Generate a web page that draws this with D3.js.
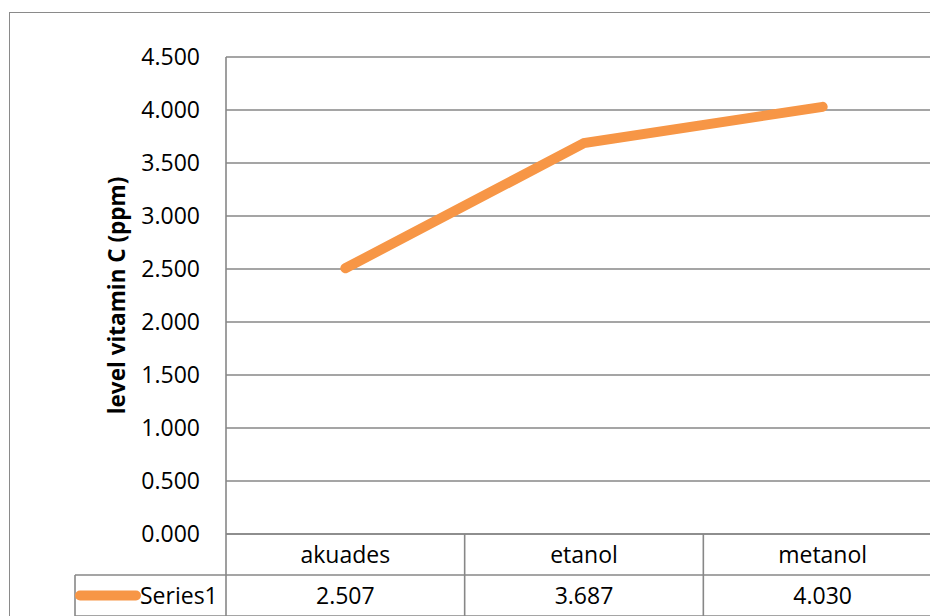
<!DOCTYPE html>
<html>
<head>
<meta charset="utf-8">
<script src="https://cdn.jsdelivr.net/npm/d3@7"></script>
<style>
  html, body { margin: 0; padding: 0; background: #fff; overflow: hidden; }
  svg { display: block; font-family: "Open Sans", "Liberation Sans", sans-serif; }
</style>
</head>
<body>
<svg id="chart" width="930" height="616"></svg>
<script>
// chart data
const categories = ["akuades", "etanol", "metanol"];
const seriesName = "Series1";
const values = [2.507, 3.687, 4.030];
const yTicks = [0, 0.5, 1, 1.5, 2, 2.5, 3, 3.5, 4, 4.5];
const yTitle = "level vitamin C (ppm)";

const svg = d3.select("#chart");
const gridColor = "#878787";
const lineColor = "#f79646";

// plot box (right side runs past the window like the original)
const plot = { left: 226, right: 942, top: 57, bottom: 534 };
const rowH = 41;

const x = d3.scaleBand().domain(categories).range([plot.left, plot.right]).padding(0);
const y = d3.scaleLinear().domain([0, 4.5]).range([plot.bottom, plot.top]);
const fmt = d3.format(".3f");

// outer chart border
svg.append("rect")
  .attr("x", 9.5).attr("y", 12.5)
  .attr("width", 960).attr("height", 640)
  .attr("fill", "none").attr("stroke", "#8a8a8a").attr("stroke-width", 1);

// gridlines
svg.append("g")
  .selectAll("line")
  .data(yTicks)
  .join("line")
  .attr("x1", plot.left).attr("x2", plot.right)
  .attr("y1", d => y(d)).attr("y2", d => y(d))
  .attr("stroke", gridColor).attr("stroke-width", 1.6);

// y axis line
svg.append("line")
  .attr("x1", plot.left).attr("x2", plot.left)
  .attr("y1", plot.top).attr("y2", plot.bottom)
  .attr("stroke", gridColor).attr("stroke-width", 1.6);

// tick labels
svg.append("g")
  .selectAll("text")
  .data(yTicks)
  .join("text")
  .attr("x", 200)
  .attr("y", d => y(d))
  .attr("dy", "0.35em")
  .attr("text-anchor", "end")
  .attr("font-size", 23)
  .attr("fill", "#000")
  .text(d => fmt(d));

// axis title
svg.append("text")
  .attr("transform", `translate(125,${(plot.top + plot.bottom) / 2}) rotate(-90)`)
  .attr("text-anchor", "middle")
  .attr("font-size", 22.5)
  .attr("font-weight", "bold")
  .text(yTitle);

// data table
const table = svg.append("g");
const r1 = plot.bottom, r2 = plot.bottom + rowH, r3 = plot.bottom + 2 * rowH;
const tableLines = [
  [plot.left, r1, plot.right, r1],
  [75, r2, plot.right, r2],
  [75, r3, plot.right, r3],
  [75, r2, 75, r3],
  [plot.left, r1, plot.left, r3]
];
categories.forEach(c => tableLines.push([x(c) + x.bandwidth(), r1, x(c) + x.bandwidth(), r3]));
table.selectAll("line")
  .data(tableLines)
  .join("line")
  .attr("x1", d => d[0]).attr("y1", d => d[1])
  .attr("x2", d => d[2]).attr("y2", d => d[3])
  .attr("stroke", gridColor).attr("stroke-width", 1.6);

table.selectAll("text.cat")
  .data(categories)
  .join("text")
  .attr("class", "cat")
  .attr("x", d => x(d) + x.bandwidth() / 2)
  .attr("y", (r1 + r2) / 2)
  .attr("dy", "0.35em")
  .attr("text-anchor", "middle")
  .attr("font-size", 23)
  .text(d => d);

table.selectAll("text.val")
  .data(values)
  .join("text")
  .attr("class", "val")
  .attr("x", (d, i) => x(categories[i]) + x.bandwidth() / 2)
  .attr("y", (r2 + r3) / 2)
  .attr("dy", "0.35em")
  .attr("text-anchor", "middle")
  .attr("font-size", 23)
  .text(d => fmt(d));

// legend key inside table
table.append("line")
  .attr("x1", 80).attr("x2", 136)
  .attr("y1", (r2 + r3) / 2).attr("y2", (r2 + r3) / 2)
  .attr("stroke", lineColor).attr("stroke-width", 10)
  .attr("stroke-linecap", "round");
table.append("text")
  .attr("x", 140)
  .attr("y", (r2 + r3) / 2)
  .attr("dy", "0.35em")
  .attr("font-size", 23)
  .text(seriesName);

// series line
const line = d3.line()
  .x((d, i) => x(categories[i]) + x.bandwidth() / 2)
  .y(d => y(d));

svg.append("path")
  .datum(values)
  .attr("d", line)
  .attr("fill", "none")
  .attr("stroke", lineColor)
  .attr("stroke-width", 10)
  .attr("stroke-linecap", "round")
  .attr("stroke-linejoin", "miter");
</script>
</body>
</html>
